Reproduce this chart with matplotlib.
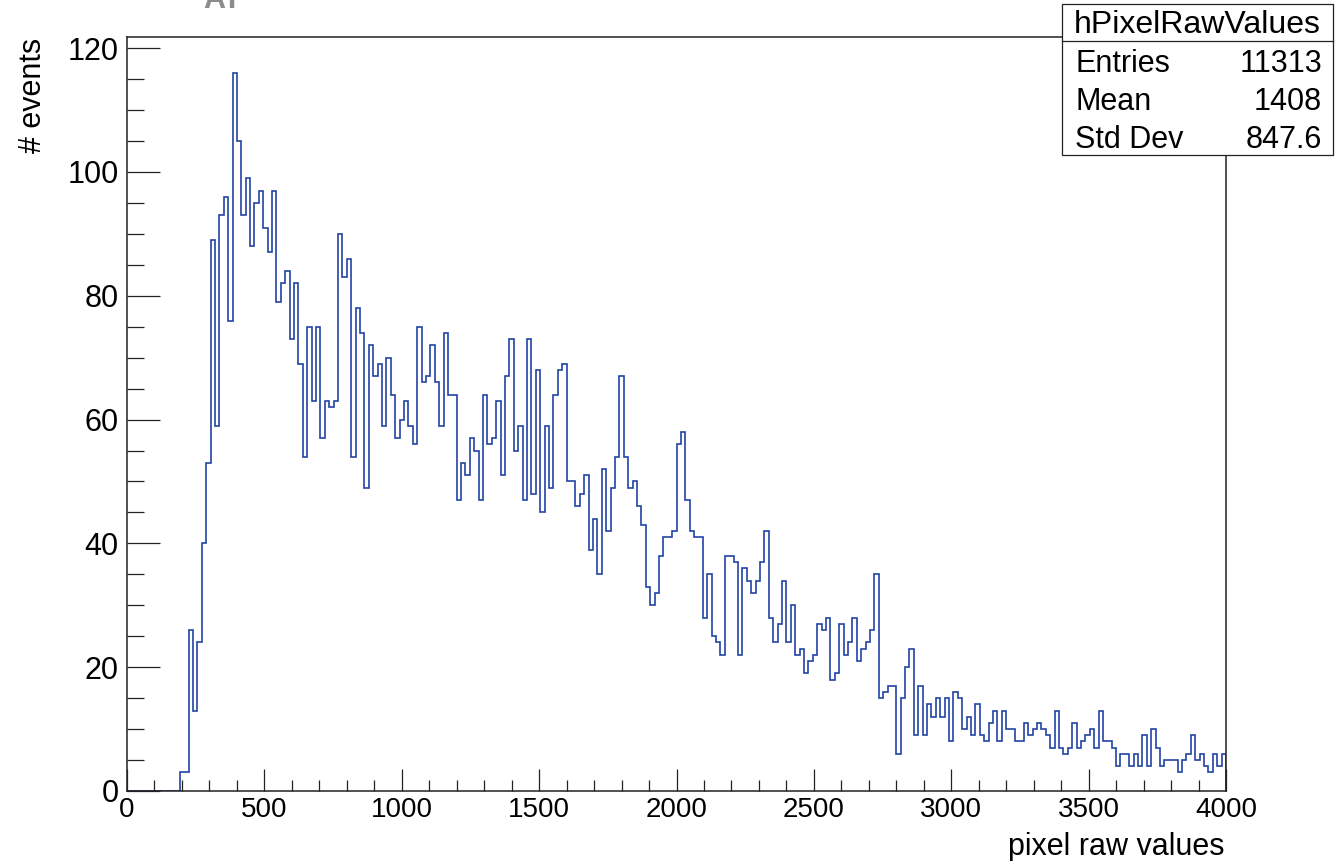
import numpy as np
import matplotlib.pyplot as plt
from matplotlib.ticker import MultipleLocator
from matplotlib.patches import Rectangle
from matplotlib.lines import Line2D

# hPixelRawValues: 250 bins of width 16 between 0 and 4000
bin_edges = np.arange(0, 4001, 16)
counts = [
    0, 0, 0, 0, 0, 0, 0, 0, 0, 0, 0, 0, 3, 3, 26, 13, 24, 40, 53, 89,
    59, 93, 96, 76, 116, 105, 93, 99, 88, 95, 97, 91, 87, 97, 79, 82, 84, 73, 82, 69,
    54, 75, 63, 75, 57, 63, 62, 63, 90, 83, 86, 54, 78, 74, 49, 72, 67, 69, 59, 70,
    64, 57, 60, 63, 59, 56, 75, 66, 67, 72, 66, 59, 74, 64, 64, 47, 53, 51, 57, 55,
    47, 64, 56, 57, 63, 51, 67, 73, 55, 59, 47, 73, 48, 68, 45, 59, 49, 64, 68, 69,
    50, 50, 46, 48, 51, 39, 44, 35, 52, 42, 49, 54, 67, 54, 49, 50, 46, 43, 33, 30,
    32, 38, 41, 41, 42, 56, 58, 47, 42, 41, 41, 28, 35, 25, 24, 22, 38, 38, 37, 22,
    36, 34, 32, 34, 37, 42, 28, 24, 27, 34, 24, 30, 22, 23, 19, 21, 22, 27, 26, 28,
    18, 19, 27, 22, 24, 28, 21, 23, 24, 26, 35, 15, 16, 17, 17, 6, 15, 20, 23, 9,
    17, 9, 14, 12, 15, 12, 15, 8, 16, 15, 10, 12, 9, 14, 9, 8, 11, 13, 8, 13,
    10, 10, 8, 8, 11, 9, 10, 11, 10, 9, 7, 13, 7, 6, 7, 11, 7, 8, 9, 10,
    7, 13, 8, 8, 7, 4, 6, 6, 4, 6, 4, 9, 4, 10, 7, 4, 5, 5, 5, 3,
    5, 6, 9, 5, 6, 4, 3, 6, 4, 6,
]

hist_name = 'hPixelRawValues'
stat_names = ['Entries', 'Mean', 'Std Dev']
stat_values = ['11313', '1408', '847.6']

plt.rcParams['font.family'] = ['Liberation Sans', 'DejaVu Sans']

W, H = 1336, 861
fig = plt.figure(figsize=(W / 100, H / 100), dpi=100)
ax = fig.add_axes([127 / W, 1 - 791 / H, (1226 - 127) / W, (791 - 37) / H])

ax.stairs(counts, bin_edges, color='#2343a3', linewidth=1.2, zorder=1)
ax.set_xlim(0, 4000)
ax.set_ylim(0, 1.05 * max(counts))

ax.xaxis.set_major_locator(MultipleLocator(500))
ax.xaxis.set_minor_locator(MultipleLocator(100))
ax.yaxis.set_major_locator(MultipleLocator(20))
ax.yaxis.set_minor_locator(MultipleLocator(5))
ax.tick_params(which='both', direction='in', top=False, right=False, color='#222222', width=0.9)
ax.tick_params(axis='x', which='major', length=16, pad=4, labelsize=20)
ax.tick_params(axis='x', which='minor', length=8)
ax.tick_params(axis='y', which='major', length=24, pad=6, labelsize=22)
ax.tick_params(axis='y', which='minor', length=12)
for s in ax.spines.values():
    s.set_linewidth(1.1)
    s.set_color('#222222')
    s.set_zorder(3)

fig.text(33 / W, 1 - 38 / H, '# events', rotation=90, ha='center', va='top', fontsize=22)
fig.text(1224 / W, 1 - 855 / H, 'pixel raw values', ha='right', va='baseline', fontsize=22)

# cut-off title at the very top
fig.text(222 / W, 1 - 8 / H, 'AT', ha='center', va='baseline', fontsize=22,
         fontweight='bold', color='#8c8c8c')

# stats box
fig.add_artist(Rectangle((1062 / W, 1 - 155 / H), (1333 - 1062) / W, (155 - 4) / H,
                         transform=fig.transFigure, facecolor='white',
                         edgecolor='#222222', linewidth=0.9, zorder=5))
fig.add_artist(Line2D([1062 / W, 1333 / W], [1 - 41 / H, 1 - 41 / H],
                      transform=fig.transFigure, color='#222222', linewidth=0.9, zorder=6))
fig.text(1197 / W, 1 - 33 / H, hist_name, ha='center', va='baseline', fontsize=23, zorder=7)
for k, (name, val) in enumerate(zip(stat_names, stat_values)):
    yb = 1 - (72 + 38 * k) / H
    fig.text(1075 / W, yb, name, ha='left', va='baseline', fontsize=22, zorder=7)
    fig.text(1322 / W, yb, val, ha='right', va='baseline', fontsize=22, zorder=7)

fig.savefig('out.png', dpi=100)
